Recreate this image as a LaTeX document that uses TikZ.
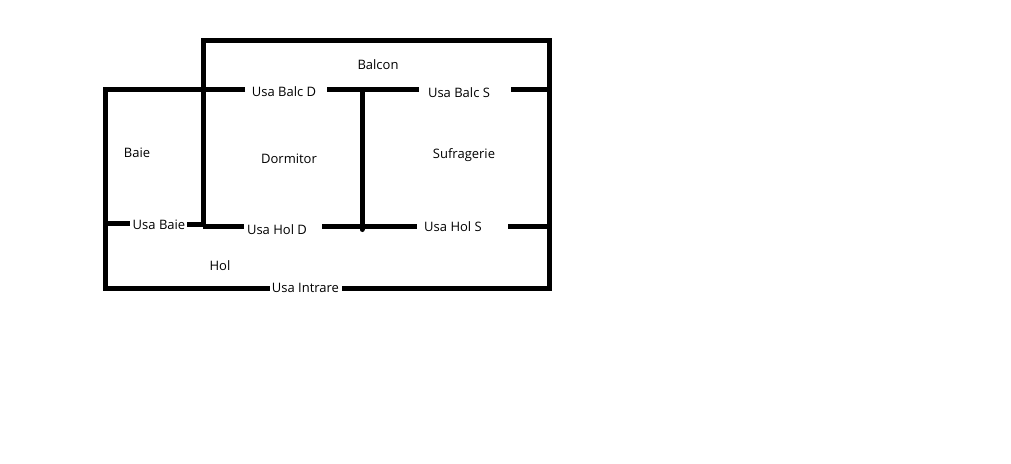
\documentclass[tikz,border=0pt]{standalone}
\usepackage{fontspec}
\setmainfont{Open Sans}
\usetikzlibrary{calc, positioning}

\begin{document}
\begin{tikzpicture}[x=1pt, y=-1pt,
  wall/.style={line width = 5pt, black},
  lbl/.style={inner sep = 0 pt, font=\fontsize{13}{15}\selectfont, text=black}]
\useasboundingbox (0,0) rectangle (1011,463);
% rooms
\node[lbl] (balcon) at (378,65) {Balcon};
\node[lbl] (baie) at (137,153) {Baie};
\node[lbl] (dormitor) at (289,159) {Dormitor};
\node[lbl] (sufragerie) at (464,155) {Sufragerie};
\node[lbl] (hol) at (220,266) {Hol};
% doors
\node[lbl] (ubd) at (284,92) {Usa Balc D};
\node[lbl] (ubs) at (459,93) {Usa Balc S};
\node[lbl] (ub) at (159,225) {Usa Baie};
\node[lbl] (uhd) at (277,229.5) {Usa Hol D};
\node[lbl] (uhs) at (453,227) {Usa Hol S};
\node[lbl] (ui) at (305.5,288) {Usa Intrare};
% corners and wall ends
\coordinate (tl) at (105,89.5);
\coordinate (bl) at (105,288);
\coordinate (br) at (549,288);
\coordinate (tr) at (549,89.5);
\coordinate (bk1) at (203,40.5);
\coordinate (bk2) at (549,40.5);
\coordinate (mid1) at (362,89.5);
\coordinate (mid2) at (362,229.5);
\coordinate (hl) at (203,226.5);
\coordinate (hr) at (552,226.5);
\coordinate (bd1) at (245,89.5);
\coordinate (bd2) at (327,89.5);
\coordinate (bs1) at (419,89.5);
\coordinate (bs2) at (511,89.5);
\coordinate (hd1) at (244,226.5);
\coordinate (hd2) at (322,226.5);
\coordinate (hs1) at (417,226.5);
\coordinate (hs2) at (508,226.5);
\coordinate (ua1) at (105,223);
\coordinate (ua2) at (130,223);
\coordinate (ua3) at (187,224.5);
\coordinate (ua4) at (203,224.5);
\coordinate (in1) at (270,288);
\coordinate (in2) at (342,288);
% walls
\draw[wall] (bd1) -- (tl) -- (bl) -- (in1);
\draw[wall] (in2) -- (br) -- (tr) -- (bs2);
\draw[wall] (bd2) -- (bs1);
\draw[wall] (hl) -- (hd1);
\draw[wall] (hd2) -- (hs1);
\draw[wall] (hs2) -- (hr);
\draw[wall] (hd1 -| hl) -- (bk1) -- (bk2) -- (tr);
\draw[wall, line cap = round] (mid1) -- (mid2);
\draw[wall] (ua1) -- (ua2);
\draw[wall] (ua3) -- (ua4);
\end{tikzpicture}
\end{document}
